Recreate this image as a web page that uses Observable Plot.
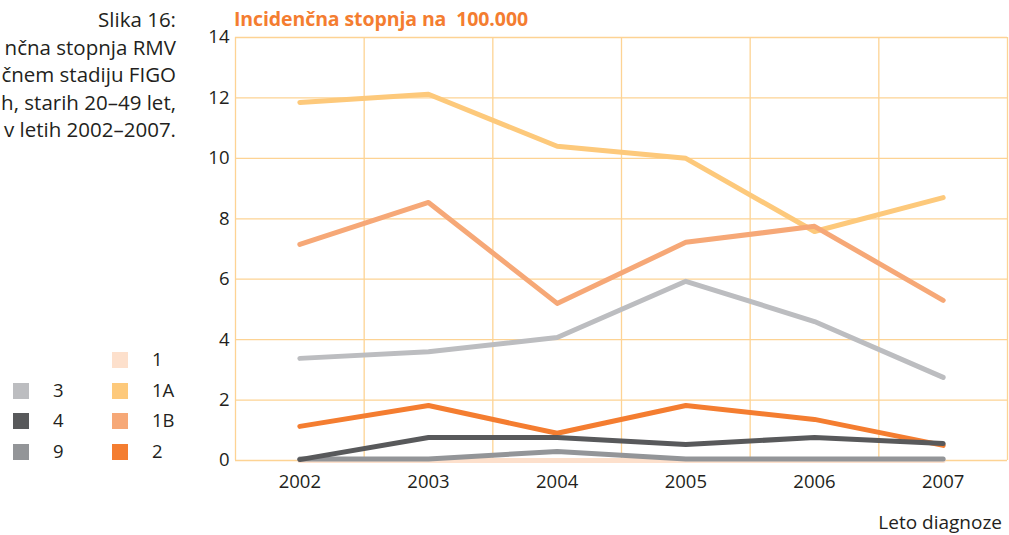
<!DOCTYPE html>
<html><head><meta charset="utf-8">
<script src="https://cdn.jsdelivr.net/npm/d3@7"></script>
<script src="https://cdn.jsdelivr.net/npm/@observablehq/plot@0.6"></script>
<style>
html,body{margin:0;padding:0;background:#fff;}
#wrap{position:relative;width:1009px;height:535px;overflow:hidden;font-family:"Open Sans",sans-serif;color:#231f20;}
#chart{position:absolute;left:0;top:0;}
#caption{position:absolute;right:833px;top:6px;text-align:right;font-size:20.5px;line-height:27.5px;white-space:nowrap;}
#title{position:absolute;left:234px;top:5px;font-size:19.5px;font-weight:bold;color:#f47d30;white-space:pre;letter-spacing:-0.1px;}
#xlabel{position:absolute;right:7px;top:509px;font-size:19px;}
.leg{position:absolute;font-size:18.5px;}
.sw{position:absolute;width:16px;height:16px;}
</style></head>
<body><div id="wrap">
<div id="chart"></div>
<div id="caption"></div>
<div id="title"></div>
<div id="xlabel"></div>
<div id="legend"></div>
</div>
<script>
const years = [2002, 2003, 2004, 2005, 2006, 2007];
const stage1  = [0, 0, 0, 0, 0, 0];
const stage1A = [11.85, 12.12, 10.4, 10.0, 7.58, 8.7];
const stage1B = [7.15, 8.54, 5.2, 7.22, 7.75, 5.3];
const stage2  = [1.13, 1.82, 0.9, 1.82, 1.36, 0.5];
const stage3  = [3.38, 3.6, 4.07, 5.93, 4.6, 2.75];
const stage4  = [0.03, 0.76, 0.76, 0.53, 0.76, 0.56];
const stage9  = [0.05, 0.05, 0.3, 0.05, 0.05, 0.05];
const yTicks = [0, 2, 4, 6, 8, 10, 12, 14];
const series = [
  {name: "1", values: stage1, color: "#fde0cc"},
  {name: "1A", values: stage1A, color: "#fdc97b"},
  {name: "1B", values: stage1B, color: "#f6a877"},
  {name: "3", values: stage3, color: "#bcbdc0"},
  {name: "2", values: stage2, color: "#f47d30"},
  {name: "9", values: stage9, color: "#939598"},
  {name: "4", values: stage4, color: "#58595b"}
];
// caption as visible in the reference (its left part is cropped off there)
const captionLines = ["Slika 16:", "nčna stopnja RMV", "čnem stadiju FIGO", "h, starih 20–49 let,", "v letih 2002–2007."];
const titleText = "Incidenčna stopnja na  100.000";
const xLabelText = "Leto diagnoze";
const legendCol1 = ["", "3", "4", "9"];
const legendCol2 = ["1", "1A", "1B", "2"];

const data = series.flatMap(s => s.values.map((v, i) => ({series: s.name, year: years[i], value: v})));
const colorOf = Object.fromEntries(series.map(s => [s.name, s.color]));
const bounds = [...years.map(y => y - 0.5), years[years.length - 1] + 0.5];
const grid = "#fdd394";

const chart = Plot.plot({
  width: 1009, height: 535,
  marginLeft: 235, marginRight: 2, marginTop: 37, marginBottom: 75,
  style: {fontFamily: "'Open Sans', sans-serif", fontSize: "18px", color: "#231f20", background: "transparent"},
  x: {type: "linear", domain: [years[0] - 0.5, years[years.length - 1] + 0.5], ticks: years, tickFormat: "d", tickSize: 0, tickPadding: 14, label: null},
  y: {domain: [0, 14], ticks: yTicks, tickSize: 0, tickPadding: 6, label: null},
  marks: [
    Plot.ruleY(yTicks, {stroke: grid, strokeWidth: 1.3}),
    Plot.ruleX(bounds, {stroke: grid, strokeWidth: 1.3}),
    Plot.line(data, {x: "year", y: "value", z: "series", stroke: d => colorOf[d.series], strokeWidth: 5, strokeLinecap: "round", strokeLinejoin: "round"}),
    Plot.axisX({ticks: years, tickFormat: "d", tickSize: 0, tickPadding: 14, fontSize: 18.5}),
    Plot.axisY({ticks: yTicks, tickSize: 0, tickPadding: 6, fontSize: 18.5})
  ]
});
document.getElementById("chart").appendChild(chart);
document.getElementById("caption").innerHTML = captionLines.map(l => `<div>${l}</div>`).join("");
document.getElementById("title").textContent = titleText;
document.getElementById("xlabel").textContent = xLabelText;

const leg = document.getElementById("legend");
const rowY = [352, 383, 413, 444];
function addItem(x, y, name) {
  if (!name) return;
  const sw = document.createElement("div");
  sw.className = "sw"; sw.style.left = x + "px"; sw.style.top = y + "px"; sw.style.background = colorOf[name];
  leg.appendChild(sw);
  const t = document.createElement("div");
  t.className = "leg"; t.style.left = (x + 40) + "px"; t.style.top = (y - 6) + "px"; t.textContent = name;
  leg.appendChild(t);
}
legendCol1.forEach((n, i) => addItem(13, rowY[i], n));
legendCol2.forEach((n, i) => addItem(112, rowY[i], n));
</script>
</body></html>
